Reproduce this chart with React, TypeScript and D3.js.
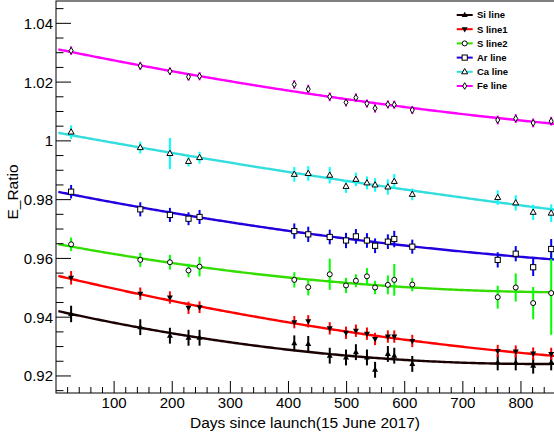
import React from "react";
import * as d3 from "d3";

const days = [26, 145, 196, 228, 247, 410, 434, 471, 499, 516, 535, 549, 571, 582, 613, 760, 791, 821, 852];

const siVals = [0.9411, 0.9366, 0.9337, 0.9330, 0.9330, 0.9311, 0.9309, 0.9269, 0.9263, 0.9281, 0.9263, 0.9221, 0.9275, 0.9269, 0.9241, 0.9246, 0.9246, 0.9235, 0.9246];
const s1Vals = [0.9534, 0.9480, 0.9467, 0.9432, 0.9434, 0.9383, 0.9386, 0.9362, 0.9347, 0.9354, 0.9344, 0.9326, 0.9334, 0.9334, 0.9319, 0.9285, 0.9283, 0.9276, 0.9275];
const s2Vals = [0.9648, 0.9595, 0.9587, 0.9559, 0.9572, 0.9527, 0.9502, 0.9546, 0.9508, 0.9524, 0.9539, 0.9501, 0.9510, 0.9527, 0.9511, 0.9468, 0.9501, 0.9448, 0.9482];
const arVals = [0.9827, 0.9767, 0.9748, 0.9735, 0.9741, 0.9693, 0.9682, 0.9673, 0.9661, 0.9675, 0.9661, 0.9643, 0.9657, 0.9666, 0.9640, 0.9595, 0.9616, 0.9570, 0.9632];
const caVals = [1.0030, 0.9977, 0.9957, 0.9930, 0.9943, 0.9886, 0.9889, 0.9883, 0.9845, 0.9869, 0.9857, 0.9850, 0.9843, 0.9862, 0.9818, 0.9807, 0.9789, 0.9757, 0.9754];
const feVals = [1.0307, 1.0255, 1.0237, 1.0218, 1.0220, 1.0192, 1.0176, 1.0150, 1.0131, 1.0147, 1.0127, 1.0111, 1.0124, 1.0123, 1.0105, 1.0071, 1.0076, 1.0061, 1.0067];

const siErr = [0.0028, 0.0027, 0.0027, 0.0027, 0.0027, 0.0027, 0.0027, 0.0027, 0.0027, 0.0027, 0.0027, 0.0027, 0.0027, 0.0027, 0.0027, 0.0027, 0.0027, 0.0027, 0.0027];
const s1Err = [0.0023, 0.0021, 0.0021, 0.0021, 0.0020, 0.0021, 0.0021, 0.0021, 0.0021, 0.0021, 0.0021, 0.0021, 0.0021, 0.0021, 0.0021, 0.0021, 0.0021, 0.0021, 0.0021];
const s2Err = [0.0023, 0.0024, 0.0025, 0.0023, 0.0033, 0.0026, 0.0028, 0.0053, 0.0026, 0.0022, 0.0028, 0.0023, 0.0032, 0.0054, 0.0023, 0.0039, 0.0048, 0.0055, 0.0142];
const arErr = [0.0023, 0.0024, 0.0024, 0.0022, 0.0024, 0.0026, 0.0026, 0.0025, 0.0026, 0.0025, 0.0025, 0.0025, 0.0025, 0.0028, 0.0024, 0.0026, 0.0026, 0.0030, 0.0034];
const caErr = [0.0023, 0.0020, 0.0053, 0.0017, 0.0020, 0.0025, 0.0025, 0.0028, 0.0022, 0.0023, 0.0022, 0.0023, 0.0026, 0.0025, 0.0020, 0.0025, 0.0026, 0.0026, 0.0030];
const feErr = [0.0015, 0.0014, 0.0013, 0.0013, 0.0014, 0.0015, 0.0015, 0.0015, 0.0014, 0.0015, 0.0014, 0.0015, 0.0014, 0.0014, 0.0014, 0.0015, 0.0015, 0.0015, 0.0015];

// fitted curve values read at three anchor days (quadratic fits)
const fitDays = [5, 410, 853];
const siFit = [0.9420, 0.9287, 0.9241];
const s1Fit = [0.9540, 0.9379, 0.9269];
const s2Fit = [0.9648, 0.9533, 0.9485];
const arFit = [0.9826, 0.9691, 0.9597];
const caFit = [1.0027, 0.9891, 0.9767];
const feFit = [1.0311, 1.0168, 1.0059];

const seriesNames = ["Si line", "S line1", "S line2", "Ar line", "Ca line", "Fe line"];
const lineColors = ["#1a0000", "#ff0000", "#33dd00", "#2200dd", "#33dddd", "#ff00ff"];
const barColors = ["#000000", "#ff0000", "#00ff00", "#0000ff", "#00ffff", "#ff00ff"];
const markerTypes = ["triUp", "triDown", "circle", "square", "triOpen", "diamond"];

const xTickVals = [100, 200, 300, 400, 500, 600, 700, 800];
const yTickVals = [0.92, 0.94, 0.96, 0.98, 1.0, 1.02, 1.04];
const yTickLabels = ["0.92", "0.94", "0.96", "0.98", "1", "1.02", "1.04"];

const W = 554, H = 434;
const FL = 56, FR = 557, FT = 1, FB = 393;
const x = d3.scaleLinear().domain([0, 862]).range([FL, FR]);
const y = d3.scaleLinear().domain([0.9142, 1.0476]).range([FB, FT]);

const FONT = "'Liberation Sans', Arial, Helvetica, sans-serif";

function quad(anchors: number[]) {
  const [d0, d1, d2] = fitDays;
  const [y0, y1, y2] = anchors;
  return (d: number) =>
    y0 * ((d - d1) * (d - d2)) / ((d0 - d1) * (d0 - d2)) +
    y1 * ((d - d0) * (d - d2)) / ((d1 - d0) * (d1 - d2)) +
    y2 * ((d - d0) * (d - d1)) / ((d2 - d0) * (d2 - d1));
}

function Marker({ type, cx, cy }: { type: string; cx: number; cy: number }) {
  const sw = 1;
  switch (type) {
    case "triUp":
      return <path d={`M${cx},${cy - 3.3}L${cx + 3},${cy + 2}L${cx - 3},${cy + 2}Z`} fill="#000" />;
    case "triDown":
      return <path d={`M${cx},${cy + 3.3}L${cx + 3},${cy - 2}L${cx - 3},${cy - 2}Z`} fill="#000" />;
    case "circle":
      return <circle cx={cx} cy={cy} r={2.5} fill="#fff" stroke="#000" strokeWidth={sw} />;
    case "square":
      return <rect x={cx - 2.6} y={cy - 2.6} width={5.2} height={5.2} fill="#fff" stroke="#000" strokeWidth={sw} />;
    case "triOpen":
      return <path d={`M${cx},${cy - 3.3}L${cx + 3},${cy + 2}L${cx - 3},${cy + 2}Z`} fill="#fff" stroke="#000" strokeWidth={sw} />;
    default:
      return <path d={`M${cx},${cy - 3.3}L${cx + 2},${cy}L${cx},${cy + 3.3}L${cx - 2},${cy}Z`} fill="#fff" stroke="#000" strokeWidth={sw} />;
  }
}

export default function App() {
  const vals = [siVals, s1Vals, s2Vals, arVals, caVals, feVals];
  const errs = [siErr, s1Err, s2Err, arErr, caErr, feErr];
  const fits = [siFit, s1Fit, s2Fit, arFit, caFit, feFit];

  const fitSamples = d3.range(4, 863, 4);
  const line = d3.line<number>();

  const xMinor = d3.range(20, 861, 20);
  const yMinor = d3.range(0.915, 1.0476, 0.005);

  const legendRows = [15, 29.2, 43.4, 57.6, 71.8, 86];

  return (
    <svg width={W} height={H} style={{ position: "absolute", left: 0, top: 0, background: "#fff" }} fontFamily={FONT}>
      <defs>
        <clipPath id="frame">
          <rect x={FL} y={FT} width={FR - FL} height={FB - FT} />
        </clipPath>
      </defs>
      <rect x={0} y={0} width={W} height={H} fill="#fff" />

      {/* fit curves */}
      <g clipPath="url(#frame)">
        {fits.map((f, i) => {
          const fn = quad(f);
          const pts = fitSamples.map((d) => [x(d), y(fn(d))] as [number, number]);
          return <path key={i} d={line(pts as any) || ""} fill="none" stroke={lineColors[i]} strokeWidth={2.4} />;
        })}
      </g>

      {/* error bars */}
      <g clipPath="url(#frame)">
        {vals.map((vs, i) =>
          vs.map((v, j) => (
            <line
              key={`${i}-${j}`}
              x1={x(days[j])}
              x2={x(days[j])}
              y1={y(v - errs[i][j])}
              y2={y(v + errs[i][j])}
              stroke={barColors[i]}
              strokeWidth={2}
            />
          ))
        )}
      </g>

      {/* markers */}
      <g>
        {vals.map((vs, i) =>
          vs.map((v, j) => <Marker key={`m${i}-${j}`} type={markerTypes[i]} cx={x(days[j])} cy={y(v)} />)
        )}
      </g>

      {/* frame */}
      <rect x={FL} y={FT} width={FR - FL} height={FB - FT} fill="none" stroke="#000" strokeWidth={1} />

      {/* ticks */}
      <g stroke="#000" strokeWidth={1}>
        {xMinor.map((d) => (
          <line key={`xm${d}`} x1={x(d)} x2={x(d)} y1={FB} y2={FB - (d % 100 === 0 ? 12 : 6)} />
        ))}
        {yMinor.map((v, k) => {
          const isMajor = yTickVals.some((t) => Math.abs(t - v) < 1e-6);
          return <line key={`ym${k}`} x1={FL} x2={FL + (isMajor ? 15 : 7.5)} y1={y(v)} y2={y(v)} />;
        })}
      </g>

      {/* tick labels */}
      <g fontSize={15} fill="#000">
        {xTickVals.map((d) => (
          <text key={`xl${d}`} x={x(d)} y={408} textAnchor="middle">
            {d}
          </text>
        ))}
        {yTickVals.map((v, k) => (
          <text key={`yl${k}`} x={53} y={y(v)} dy="0.36em" textAnchor="end">
            {yTickLabels[k]}
          </text>
        ))}
      </g>

      {/* axis titles */}
      <text x={305} y={428} textAnchor="middle" fontSize={15.5} fill="#000">
        Days since launch(15 June 2017)
      </text>
      <text transform={`translate(18,192) rotate(-90)`} textAnchor="middle" fontSize={15.5} fill="#000">
        E_Ratio
      </text>

      {/* legend */}
      <g>
        {seriesNames.map((name, i) => (
          <g key={name}>
            <line x1={456.7} x2={472.7} y1={legendRows[i]} y2={legendRows[i]} stroke={lineColors[i]} strokeWidth={2} />
            <Marker type={markerTypes[i]} cx={464.7} cy={legendRows[i]} />
            <text x={477} y={legendRows[i]} dy="0.36em" fontSize={9.5} fontWeight="bold" fill="#000">
              {name}
            </text>
          </g>
        ))}
      </g>
    </svg>
  );
}
